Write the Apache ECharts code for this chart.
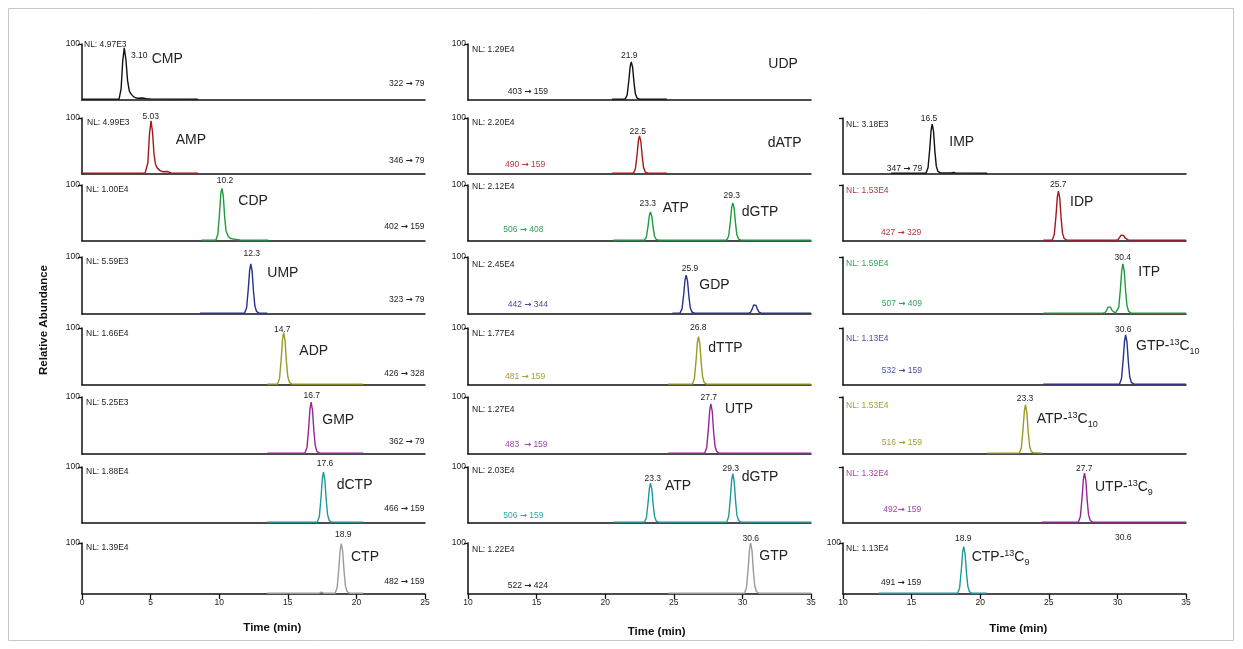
<!DOCTYPE html>
<html><head><meta charset="utf-8">
<script src="https://cdn.jsdelivr.net/npm/echarts@6/dist/echarts.min.js"></script>
<style>html,body{margin:0;padding:0;background:#fff}#c{width:1243px;height:649px}</style>
</head><body><div id="c"></div>
<script>
// ---------------- DATA (time in min, relative abundance) ----------------
const CMP = [[0,1.5],[2.7,1.5],[2.85,20],[2.97,70],[3.08,93],[3.2,72],[3.32,35],[3.45,16],[3.6,10],[3.75,6],[3.9,4],[4.1,3],[4.4,3.5],[4.7,2.5],[5.0,2],[8.45,1.5]];
const AMP = [[0,1.5],[4.6,1.5],[4.8,20],[4.92,72],[5.03,95],[5.14,75],[5.25,35],[5.35,18],[5.5,10],[5.7,6],[5.9,4],[6.2,4.5],[6.5,2],[8.45,1.5]];
const CDP = [[8.7,1.5],[9.75,1.5],[9.9,12],[10.02,48],[10.12,85],[10.2,94],[10.3,80],[10.4,42],[10.5,18],[10.65,9],[10.8,5],[11.1,3],[11.5,2],[13.6,1.5]];
const UMP = [[8.6,1.5],[11.85,1.5],[12.0,11.5],[12.12,44],[12.22,77],[12.3,88],[12.4,75],[12.5,40],[12.6,14],[12.72,4.5],[12.9,1.5],[13.5,1.5]];
const ADP = [[13.5,1.5],[14.25,1.5],[14.4,12],[14.52,46],[14.62,81],[14.7,92],[14.8,78],[14.9,41],[15.0,15],[15.12,4.5],[15.3,1.5],[20.5,1.5]];
const GMP = [[13.5,1.5],[16.25,1.5],[16.4,12],[16.52,45],[16.62,80],[16.7,91],[16.8,77],[16.9,41],[17.0,15],[17.12,4.5],[17.3,1.5],[20.5,1.5]];
const DCTP = [[13.5,1.5],[17.15,1.5],[17.3,12],[17.42,45],[17.52,80],[17.6,91],[17.7,77],[17.8,41],[17.9,15],[18.02,4.5],[18.2,1.5],[20.5,1.5]];
const CTP = [[13.5,1.5],[17.3,1.5],[17.45,3.5],[17.6,1.5],[18.45,1.5],[18.6,13],[18.72,50],[18.82,87],[18.9,99],[19.0,84],[19.1,45],[19.2,16],[19.32,5],[19.5,1.5],[20.5,1.5]];

const UDP = [[20.5,1.5],[21.45,1.5],[21.6,9],[21.72,34],[21.82,60],[21.9,68],[22.0,58],[22.1,31],[22.2,11],[22.32,3.5],[22.5,1.5],[24.5,1.5]];
const DATP = [[20.5,1.5],[22.05,1.5],[22.2,9],[22.32,34],[22.42,60],[22.5,68],[22.6,58],[22.7,31],[22.8,11],[22.92,3.5],[23.1,1.5],[24.5,1.5]];
const ATP_DGTP_408 = [[20.6,1.5],[22.85,1.5],[23.0,7],[23.12,26],[23.22,46],[23.3,52],[23.4,44],[23.5,23],[23.6,8],[23.72,3],[23.9,1.5],[28.85,1.5],[29.0,9],[29.12,34],[29.22,60],[29.3,68],[29.4,58],[29.5,31],[29.6,11],[29.72,3.5],[29.9,1.5],[35,1.5]];
const GDP = [[24.9,1.5],[25.45,1.5],[25.6,9],[25.72,34],[25.82,60],[25.9,68],[26.0,58],[26.1,31],[26.2,11],[26.32,3.5],[26.5,1.5],[30.45,1.5],[30.6,3],[30.72,9],[30.82,16],[30.9,18],[31.0,15],[31.1,8],[31.2,3.5],[31.35,2],[31.5,1.5],[35,1.5]];
const DTTP = [[24.6,1.5],[26.35,1.5],[26.5,11],[26.62,42],[26.72,75],[26.8,85],[26.9,72],[27.0,38],[27.1,14],[27.22,4],[27.4,1.5],[35,1.5]];
const UTP = [[24.6,1.5],[26.85,1.5],[26.95,3],[27.05,1.5],[27.25,1.5],[27.4,11.5],[27.52,44],[27.62,77],[27.7,88],[27.8,75],[27.9,40],[28.0,14],[28.12,4.5],[28.3,1.5],[35,1.5]];
const ATP_DGTP_159 = [[20.6,1.5],[22.85,1.5],[23.0,9],[23.12,35],[23.22,62],[23.3,71],[23.4,60],[23.5,32],[23.6,11],[23.72,3.5],[23.9,1.5],[28.85,1.5],[29.0,11.5],[29.12,44],[29.22,77],[29.3,88],[29.4,75],[29.5,40],[29.6,14],[29.72,4.5],[29.9,1.5],[35,1.5]];
const GTP = [[24.6,1.5],[30.15,1.5],[30.3,13],[30.42,50],[30.52,88],[30.6,100],[30.7,85],[30.8,45],[30.9,16],[31.02,5],[31.2,1.5],[35,1.5]];

const IMP = [[13.5,1.5],[16.05,1.5],[16.2,11.5],[16.32,44],[16.42,78],[16.5,89],[16.6,76],[16.7,40],[16.8,14],[16.92,4.5],[17.1,2],[17.9,2],[18.05,3],[18.2,2],[20.5,1.5]];
const IDP = [[24.6,1.5],[25.25,1.5],[25.4,11.5],[25.52,44],[25.62,78],[25.7,89],[25.8,76],[25.9,40],[26.0,14],[26.12,4.5],[26.3,1.5],[29.9,1.5],[30.05,2.5],[30.17,6],[30.27,10.5],[30.35,12],[30.45,10],[30.55,5.5],[30.65,2.5],[30.8,1.5],[35,1.5]];
const ITP = [[24.6,1.5],[28.95,1.5],[29.1,2.5],[29.22,7],[29.32,12],[29.4,14],[29.5,12],[29.6,6.5],[29.7,3],[29.85,1.5],[29.95,1.5],[30.1,11.5],[30.22,44],[30.32,77],[30.4,88],[30.5,75],[30.6,40],[30.7,14],[30.82,4.5],[31.0,1.5],[35,1.5]];
const GTP_13C10 = [[24.6,1.5],[30.15,1.5],[30.3,11.5],[30.42,44],[30.52,77],[30.6,88],[30.7,75],[30.8,40],[30.9,14],[31.02,4.5],[31.2,1.5],[35,1.5]];
const ATP_13C10 = [[20.5,1.5],[22.85,1.5],[23.0,11],[23.12,43],[23.22,76],[23.3,86],[23.4,73],[23.5,39],[23.6,14],[23.72,4],[23.9,2],[24.0,3],[24.15,2],[24.5,1.5]];
const UTP_13C9 = [[24.5,1.5],[27.15,1.5],[27.3,11.5],[27.42,44],[27.52,78],[27.6,89],[27.7,76],[27.8,40],[27.9,14],[28.02,4.5],[28.2,1.5],[35,1.5]];
const CTP_13C9 = [[12.6,1.5],[18.35,1.5],[18.5,12],[18.62,46],[18.72,82],[18.8,93],[18.9,79],[19.0,42],[19.1,15],[19.22,4.5],[19.4,1.5],[20.5,1.5]];

const X_TICKS_COL1 = [0, 25];   // axis range, column 1
const X_TICKS_COL23 = [10, 35]; // axis range, columns 2 and 3

// ---------------- LAYOUT & STYLE ----------------
const FONT = '"Liberation Sans", Arial, Helvetica, sans-serif';
const C = {K:'#111111', R:'#a3171d', G:'#1f9a3f', B:'#27318e', O:'#9a9a26', P:'#9a2396', T:'#1d9a9a', Y:'#9a9a9a'};
const TC = {K:'#222222', R:'#b3383c', G:'#35a05a', B:'#4a4fa0', O:'#a0a040', P:'#a544a5', T:'#38a6a6'};
const X0 = [82, 468, 843];
const GW = 343;
const ROW_TOP = [44, 118, 185, 257, 328, 397, 467, 543];
const ROW_BASE = [100, 174, 241, 314, 385, 454, 523, 594];
const AR = '{a|\u2192}';

// panel: [col, row, trace, colorKey, showYLabel]
const PANELS = [
  [0,0,CMP,'K',1],[0,1,AMP,'R',1],[0,2,CDP,'G',1],[0,3,UMP,'B',1],[0,4,ADP,'O',1],[0,5,GMP,'P',1],[0,6,DCTP,'T',1],[0,7,CTP,'Y',1],
  [1,0,UDP,'K',1],[1,1,DATP,'R',1],[1,2,ATP_DGTP_408,'G',1],[1,3,GDP,'B',1],[1,4,DTTP,'O',1],[1,5,UTP,'P',1],[1,6,ATP_DGTP_159,'T',1],[1,7,GTP,'Y',1],
  [2,1,IMP,'K',0],[2,2,IDP,'R',0],[2,3,ITP,'G',0],[2,4,GTP_13C10,'B',0],[2,5,ATP_13C10,'O',0],[2,6,UTP_13C9,'P',0],[2,7,CTP_13C9,'T',1]
];

// texts: [x, y, text, kind, colorKey, align]   kind: s=small, n=name
const TEXTS = [
  [84,45,'NL: 4.97E3','s','K','left'],[87,123,'NL: 4.99E3','s','K','left'],[86,190,'NL: 1.00E4','s','K','left'],[86,262,'NL: 5.59E3','s','K','left'],
  [86,334,'NL: 1.66E4','s','K','left'],[86,403,'NL: 5.25E3','s','K','left'],[86,472,'NL: 1.88E4','s','K','left'],[86,548,'NL: 1.39E4','s','K','left'],
  [131,56,'3.10','s','K','left'],[150.7,116.7,'5.03','s','K','center'],[225,181,'10.2','s','K','center'],[251.7,254,'12.3','s','K','center'],
  [282.3,329.3,'14.7','s','K','center'],[311.7,396,'16.7','s','K','center'],[325,464,'17.6','s','K','center'],[343.3,535,'18.9','s','K','center'],
  [151.7,59.3,'CMP','n','K','left'],[175.7,140,'AMP','n','K','left'],[238.3,201,'CDP','n','K','left'],[267.3,273.3,'UMP','n','K','left'],
  [299.3,351,'ADP','n','K','left'],[322.3,420,'GMP','n','K','left'],[336.7,485,'dCTP','n','K','left'],[351,556.7,'CTP','n','K','left'],
  [424.5,84,'322 '+AR+' 79','s','K','right'],[424.5,161,'346 '+AR+' 79','s','K','right'],[424.5,226.7,'402 '+AR+' 159','s','K','right'],[424.5,299.3,'323 '+AR+' 79','s','K','right'],
  [424.5,373.3,'426 '+AR+' 328','s','K','right'],[424.5,441.7,'362 '+AR+' 79','s','K','right'],[424.5,509,'466 '+AR+' 159','s','K','right'],[424.5,581.7,'482 '+AR+' 159','s','K','right'],

  [472,50,'NL: 1.29E4','s','K','left'],[472,122.7,'NL: 2.20E4','s','K','left'],[472,186.7,'NL: 2.12E4','s','K','left'],[472,265,'NL: 2.45E4','s','K','left'],
  [472,334,'NL: 1.77E4','s','K','left'],[472,410,'NL: 1.27E4','s','K','left'],[472,471,'NL: 2.03E4','s','K','left'],[472,549.3,'NL: 1.22E4','s','K','left'],
  [629.3,55.7,'21.9','s','K','center'],[637.7,131.7,'22.5','s','K','center'],[647.7,204,'23.3','s','K','center'],[731.7,196,'29.3','s','K','center'],
  [690,269,'25.9','s','K','center'],[698.3,327.3,'26.8','s','K','center'],[708.7,397.3,'27.7','s','K','center'],[652.7,478.3,'23.3','s','K','center'],
  [730.7,468.3,'29.3','s','K','center'],[750.7,539,'30.6','s','K','center'],
  [768.3,64.3,'UDP','n','K','left'],[767.7,142.7,'dATP','n','K','left'],[662.7,208.3,'ATP','n','K','left'],[741.7,211.7,'dGTP','n','K','left'],
  [699.3,285,'GDP','n','K','left'],[708.3,348.3,'dTTP','n','K','left'],[725,409,'UTP','n','K','left'],[665,485.7,'ATP','n','K','left'],
  [741.7,476.7,'dGTP','n','K','left'],[759.3,555.7,'GTP','n','K','left'],
  [507.7,91.7,'403 '+AR+' 159','s','K','left'],[505,164.3,'490 '+AR+' 159','s','R','left'],[503.3,229.3,'506 '+AR+' 408','s','G','left'],[507.7,305,'442 '+AR+' 344','s','B','left'],
  [505,376.7,'481 '+AR+' 159','s','O','left'],[505,444.3,'483  '+AR+' 159','s','P','left'],[503.3,515.7,'506 '+AR+' 159','s','T','left'],[507.7,586,'522 '+AR+' 424','s','K','left'],

  [846,125,'NL: 3.18E3','s','K','left'],[846,190.7,'NL: 1.53E4','s','R','left'],[846,264,'NL: 1.59E4','s','G','left'],[846,338.3,'NL: 1.13E4','s','B','left'],
  [846,406,'NL: 1.53E4','s','O','left'],[846,473.3,'NL: 1.32E4','s','P','left'],[846,548.3,'NL: 1.13E4','s','K','left'],
  [929,118.3,'16.5','s','K','center'],[1058.3,185,'25.7','s','K','center'],[1122.7,257.3,'30.4','s','K','center'],[1123.3,330,'30.6','s','K','center'],
  [1025,399,'23.3','s','K','center'],[1084.3,469,'27.7','s','K','center'],[963.3,539,'18.9','s','K','center'],[1123.3,537.3,'30.6','s','K','center'],
  [949.3,142.3,'{n|IMP}','n','K','left'],[1070,201.7,'{n|IDP}','n','K','left'],[1138.3,271.7,'{n|ITP}','n','K','left'],
  [1136,346,'{n|GTP-}{sup|13}{n|C}{sub|10}','n','K','left'],[1036.7,419.3,'{n|ATP-}{sup|13}{n|C}{sub|10}','n','K','left'],
  [1095,487.3,'{n|UTP-}{sup|13}{n|C}{sub|9}','n','K','left'],[971.7,557.3,'{n|CTP-}{sup|13}{n|C}{sub|9}','n','K','left'],
  [886.7,168.3,'347 '+AR+' 79','s','K','left'],[881,232.3,'427 '+AR+' 329','s','R','left'],[881.7,303.3,'507 '+AR+' 409','s','G','left'],[881.7,370.7,'532 '+AR+' 159','s','B','left'],
  [881.7,442.7,'516 '+AR+' 159','s','O','left'],[883.3,509.3,'492'+AR+' 159','s','P','left'],[881,582.7,'491 '+AR+' 159','s','K','left']
];

// ---------------- BUILD ----------------
const grid = [], xAxis = [], yAxis = [], series = [];
PANELS.forEach((p, i) => {
  const [col, row, data, ck, showY] = p;
  const bottom = row === 7;
  const rng = col === 0 ? X_TICKS_COL1 : X_TICKS_COL23;
  grid.push({left: X0[col], top: ROW_TOP[row], width: GW, height: ROW_BASE[row] - ROW_TOP[row]});
  xAxis.push({
    gridIndex: i, type: 'value', min: rng[0], max: rng[1], interval: 5,
    axisLine: {show: true, onZero: false, lineStyle: {color: '#111', width: 1.5}},
    axisTick: {show: bottom, length: 5, lineStyle: {color: '#111', width: 1.3}},
    axisLabel: {show: bottom, fontSize: 8.5, color: '#222', margin: 4, fontFamily: FONT},
    splitLine: {show: false}
  });
  yAxis.push({
    gridIndex: i, type: 'value', min: 0, max: 100, interval: 100,
    axisLine: {show: true, onZero: false, lineStyle: {color: '#111', width: 1.5}},
    axisTick: {show: true, length: 4, customValues: [100], lineStyle: {color: '#111', width: 1.3}},
    axisLabel: {show: !!showY, customValues: [100], fontSize: 8.5, color: '#222', margin: 2, fontFamily: FONT},
    splitLine: {show: false}
  });
  series.push({
    type: 'line', xAxisIndex: i, yAxisIndex: i, data: data, showSymbol: false, silent: true,
    lineStyle: {color: C[ck], width: 1.4}, itemStyle: {color: C[ck]}
  });
});

const graphic = [
  {type: 'rect', shape: {x: 8.5, y: 8.5, width: 1225, height: 632}, style: {fill: 'none', stroke: '#c8c8c8', lineWidth: 1}, silent: true}
];
TEXTS.forEach(t => {
  const [x, y, text, kind, ck, align] = t;
  const fs = kind === 'n' ? 14 : 8.5;
  const st = {text: text, x: 0, y: 0, fontSize: fs, fontFamily: FONT, fill: TC[ck], align: align, verticalAlign: 'middle'};
  if (text.indexOf('{') >= 0) {
    st.rich = {
      n: {fontSize: 14, fontFamily: FONT, fill: TC[ck], lineHeight: 20, verticalAlign: 'middle'},
      sup: {fontSize: 9, fontFamily: FONT, fill: TC[ck], lineHeight: 20, verticalAlign: 'top', padding: [2, 0, 0, 0]},
      sub: {fontSize: 9, fontFamily: FONT, fill: TC[ck], lineHeight: 20, verticalAlign: 'bottom'},
      a: {fontSize: 8.5, fontFamily: '"DejaVu Sans", sans-serif', fontWeight: 'bold', fill: TC[ck]}
    };
  }
  graphic.push({type: 'text', x: x, y: y, style: st, silent: true});
});
// axis titles
[[272.3, 628, 'Time (min)'], [656.7, 632, 'Time (min)'], [1018.3, 629, 'Time (min)']].forEach(t => {
  graphic.push({type: 'text', x: t[0], y: t[1], silent: true,
    style: {text: t[2], fontSize: 11.5, fontWeight: 'bold', fontFamily: FONT, fill: '#111', align: 'center', verticalAlign: 'middle'}});
});
graphic.push({type: 'text', x: 44, y: 320, rotation: Math.PI / 2, silent: true,
  style: {text: 'Relative Abundance', fontSize: 11.5, fontWeight: 'bold', fontFamily: FONT, fill: '#111', align: 'center', verticalAlign: 'middle'}});

const chart = echarts.init(document.getElementById('c'), null, {renderer: 'canvas'});
chart.setOption({
  animation: false,
  backgroundColor: '#ffffff',
  textStyle: {fontFamily: FONT},
  grid: grid, xAxis: xAxis, yAxis: yAxis, series: series, graphic: graphic
});
</script>
</body></html>
